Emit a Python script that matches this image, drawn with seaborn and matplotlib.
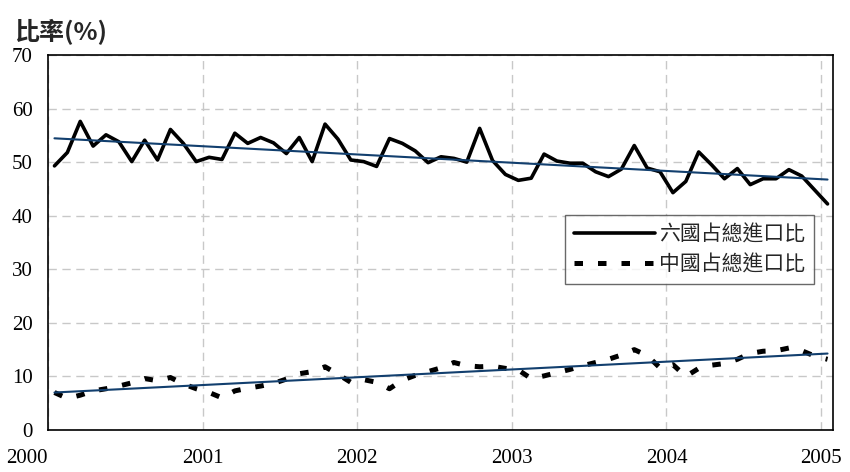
import numpy as np
import pandas as pd
import matplotlib
matplotlib.use('Agg')
import matplotlib.pyplot as plt
import seaborn as sns

# monthly shares, Jan 2000 - Jan 2005
months = pd.date_range('2000-01-01', periods=61, freq='MS')
six_share = [49.3, 51.8, 57.6, 53.0, 55.1, 53.8, 50.1, 54.1, 50.4, 56.1,
             53.5, 50.1, 50.9, 50.5, 55.4, 53.5, 54.6, 53.6, 51.6, 54.6,
             50.1, 57.1, 54.3, 50.4, 50.1, 49.2, 54.4, 53.5, 52.1, 49.9,
             51.0, 50.7, 50.0, 56.3, 50.3, 47.7, 46.6, 47.0, 51.5, 50.2,
             49.8, 49.8, 48.2, 47.3, 48.7, 53.1, 48.9, 48.2, 44.3, 46.4,
             51.9, 49.5, 46.9, 48.8, 45.8, 46.9, 46.9, 48.6, 47.4, 44.8, 42.2]
china_share = [7.0, 5.9, 6.5, 7.3, 7.7, 8.2, 8.8, 9.6, 9.2, 9.8,
               8.6, 7.7, 7.0, 6.0, 7.3, 7.8, 8.2, 8.7, 9.5, 10.5,
               10.9, 11.8, 10.4, 8.9, 9.4, 8.9, 7.7, 9.3, 10.2, 10.9,
               11.6, 12.6, 12.0, 11.8, 11.9, 11.5, 11.2, 9.6, 10.1, 10.7,
               11.3, 12.0, 12.6, 13.2, 14.0, 15.0, 13.9, 11.6, 12.2, 10.0,
               11.5, 12.1, 12.4, 13.2, 14.3, 14.7, 14.8, 15.3, 14.8, 13.8, 13.2]
years = [2000, 2001, 2002, 2003, 2004, 2005]
yticks = [0, 10, 20, 30, 40, 50, 60, 70]
labels = ['六國占總進口比', '中國占總進口比']

# mid-month position in decimal years
t = months.year + (months.month - 0.5) / 12
df = pd.DataFrame({'t': t, 'six': six_share, 'china': china_share})

sns.set_style('white')
plt.rcParams['font.family'] = ['Liberation Serif', 'Noto Sans CJK TC']

fig = plt.figure(figsize=(8.5, 4.72), dpi=100)
ax = fig.add_axes([0.0565, 0.089, 0.9235, 0.7945])

sns.lineplot(data=df, x='t', y='six', color='black', lw=2.6, label=labels[0], ax=ax)
sns.lineplot(data=df, x='t', y='china', color='black', lw=3.6,
             linestyle=(0, (1.7, 3.0)), label=labels[1], ax=ax)
navy = '#123f6e'
sns.regplot(data=df, x='t', y='six', scatter=False, ci=None, ax=ax,
            line_kws={'color': navy, 'lw': 1.5})
sns.regplot(data=df, x='t', y='china', scatter=False, ci=None, ax=ax,
            line_kws={'color': navy, 'lw': 1.5})

ax.set_xlim(2000, 2005.077)
ax.set_ylim(0, 70)
ax.set_xticks(years)
ax.set_yticks(yticks)
ax.set_xticklabels([str(y) for y in years], fontsize=15)
ax.set_yticklabels([str(v) for v in yticks], fontsize=15)
ax.get_xticklabels()[0].set_horizontalalignment('right')
ax.set_xlabel('')
ax.set_ylabel('')
ax.tick_params(direction='in', length=5, width=1, colors='black')
ax.tick_params(axis='y', pad=11)
ax.tick_params(axis='x', pad=14)
ax.grid(True, color='#c8c8c8', linestyle=(0, (6, 4)), lw=1)
for s in ax.spines.values():
    s.set_color('black')
    s.set_linewidth(1.2)

leg = ax.legend(loc='upper left', bbox_to_anchor=(0.659, 0.573), handlelength=3.9,
                prop={'family': 'Noto Sans CJK TC', 'size': 15}, frameon=True,
                fancybox=False, borderpad=0.4, handletextpad=0.2, labelspacing=0.4,
                borderaxespad=0)
leg.get_frame().set_edgecolor('#444444')
leg.get_frame().set_linewidth(1)

fig.text(0.016, 0.915, '比率(%)', fontsize=18, fontweight='bold',
         family=['Noto Sans CJK TC', 'Liberation Serif'])

fig.savefig('out.png', dpi=100)
